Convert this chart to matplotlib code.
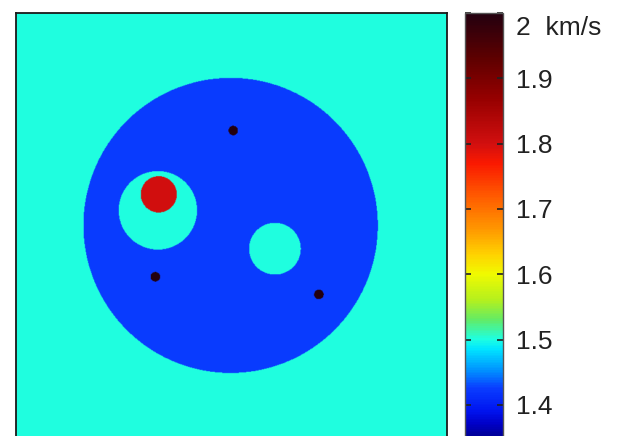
import numpy as np
import matplotlib
matplotlib.use("Agg")
import matplotlib.pyplot as plt
from matplotlib.colors import LinearSegmentedColormap, Normalize
from matplotlib.transforms import ScaledTranslation

plt.rcParams['font.family'] = ['Liberation Sans', 'DejaVu Sans']

# velocity model (domain 0..100 in both directions, depth downwards)
background_v = 1.5
disk_center = (49.8, 49.4)
disk_radius = 34.2
disk_v = 1.425

# inclusions inside the disk: (x, z, radius, velocity), drawn in order
incl_x = [32.9, 33.1, 60.1, 50.4, 32.3, 70.3]
incl_z = [45.9, 42.2, 54.8, 27.4, 61.3, 65.4]
incl_r = [9.1, 4.2, 6.0, 1.1, 1.1, 1.1]
incl_v = [1.5, 1.8, 1.5, 2.0, 2.0, 2.0]

vmin, vmax = 1.34, 2.0
tick_vals = [1.4, 1.5, 1.6, 1.7, 1.8, 1.9, 2.0]
tick_labels = ['1.4', '1.5', '1.6', '1.7', '1.8', '1.9', '2  km/s']

# colour scale (value, rgb 0-255)
cm_vals = [1.34, 1.37, 1.39, 1.425, 1.45, 1.485, 1.50, 1.53, 1.56, 1.60,
           1.63, 1.67, 1.72, 1.77, 1.80, 1.87, 1.93, 2.0]
cm_rgb = [(0, 0, 120), (0, 0, 200), (0, 20, 240), (10, 62, 255), (0, 140, 255),
          (0, 230, 255), (30, 255, 225), (100, 235, 100), (180, 240, 30),
          (240, 250, 0), (255, 210, 0), (255, 150, 0), (255, 90, 0),
          (250, 25, 0), (210, 15, 15), (150, 0, 0), (95, 0, 0), (35, 0, 15)]

cmap = LinearSegmentedColormap.from_list(
    'vel', [((v - vmin) / (vmax - vmin), tuple(c / 255 for c in rgb))
            for v, rgb in zip(cm_vals, cm_rgb)])

n = 700
xs = np.linspace(0, 100, n)
X, Z = np.meshgrid(xs, xs)
V = np.full_like(X, background_v)
V[(X - disk_center[0])**2 + (Z - disk_center[1])**2 <= disk_radius**2] = disk_v
for x0, z0, r, v in zip(incl_x, incl_z, incl_r, incl_v):
    V[(X - x0)**2 + (Z - z0)**2 <= r**2] = v

fig = plt.figure(figsize=(6.17, 4.36), dpi=100)
W, H = 617, 436
ax = fig.add_axes([16 / W, (H - 444) / H, 431 / W, 431 / H])
im = ax.imshow(V, cmap=cmap, norm=Normalize(vmin, vmax), extent=[0, 100, 100, 0],
               interpolation='bilinear', aspect='auto')
ax.set_xticks([])
ax.set_yticks([])
for s in ax.spines.values():
    s.set_linewidth(1.3)
    s.set_color('#1a1a1a')

cax = fig.add_axes([465 / W, (H - 444) / H, 38 / W, 431 / H])
cb = fig.colorbar(im, cax=cax, ticks=tick_vals)
cb.ax.set_yticklabels(tick_labels)
cb.outline.set_linewidth(1.0)
cb.outline.set_edgecolor('#555555')
cb.ax.tick_params(direction='in', length=4, width=1.2, left=True, right=True,
                  labelsize=19, pad=9, labelcolor='#222222', color='#222222')
# top label sits a bit lower than its tick
top = cb.ax.get_yticklabels()[-1]
top.set_transform(top.get_transform() + ScaledTranslation(0, -13 / 100, fig.dpi_scale_trans))

fig.savefig('out.png', dpi=100)
